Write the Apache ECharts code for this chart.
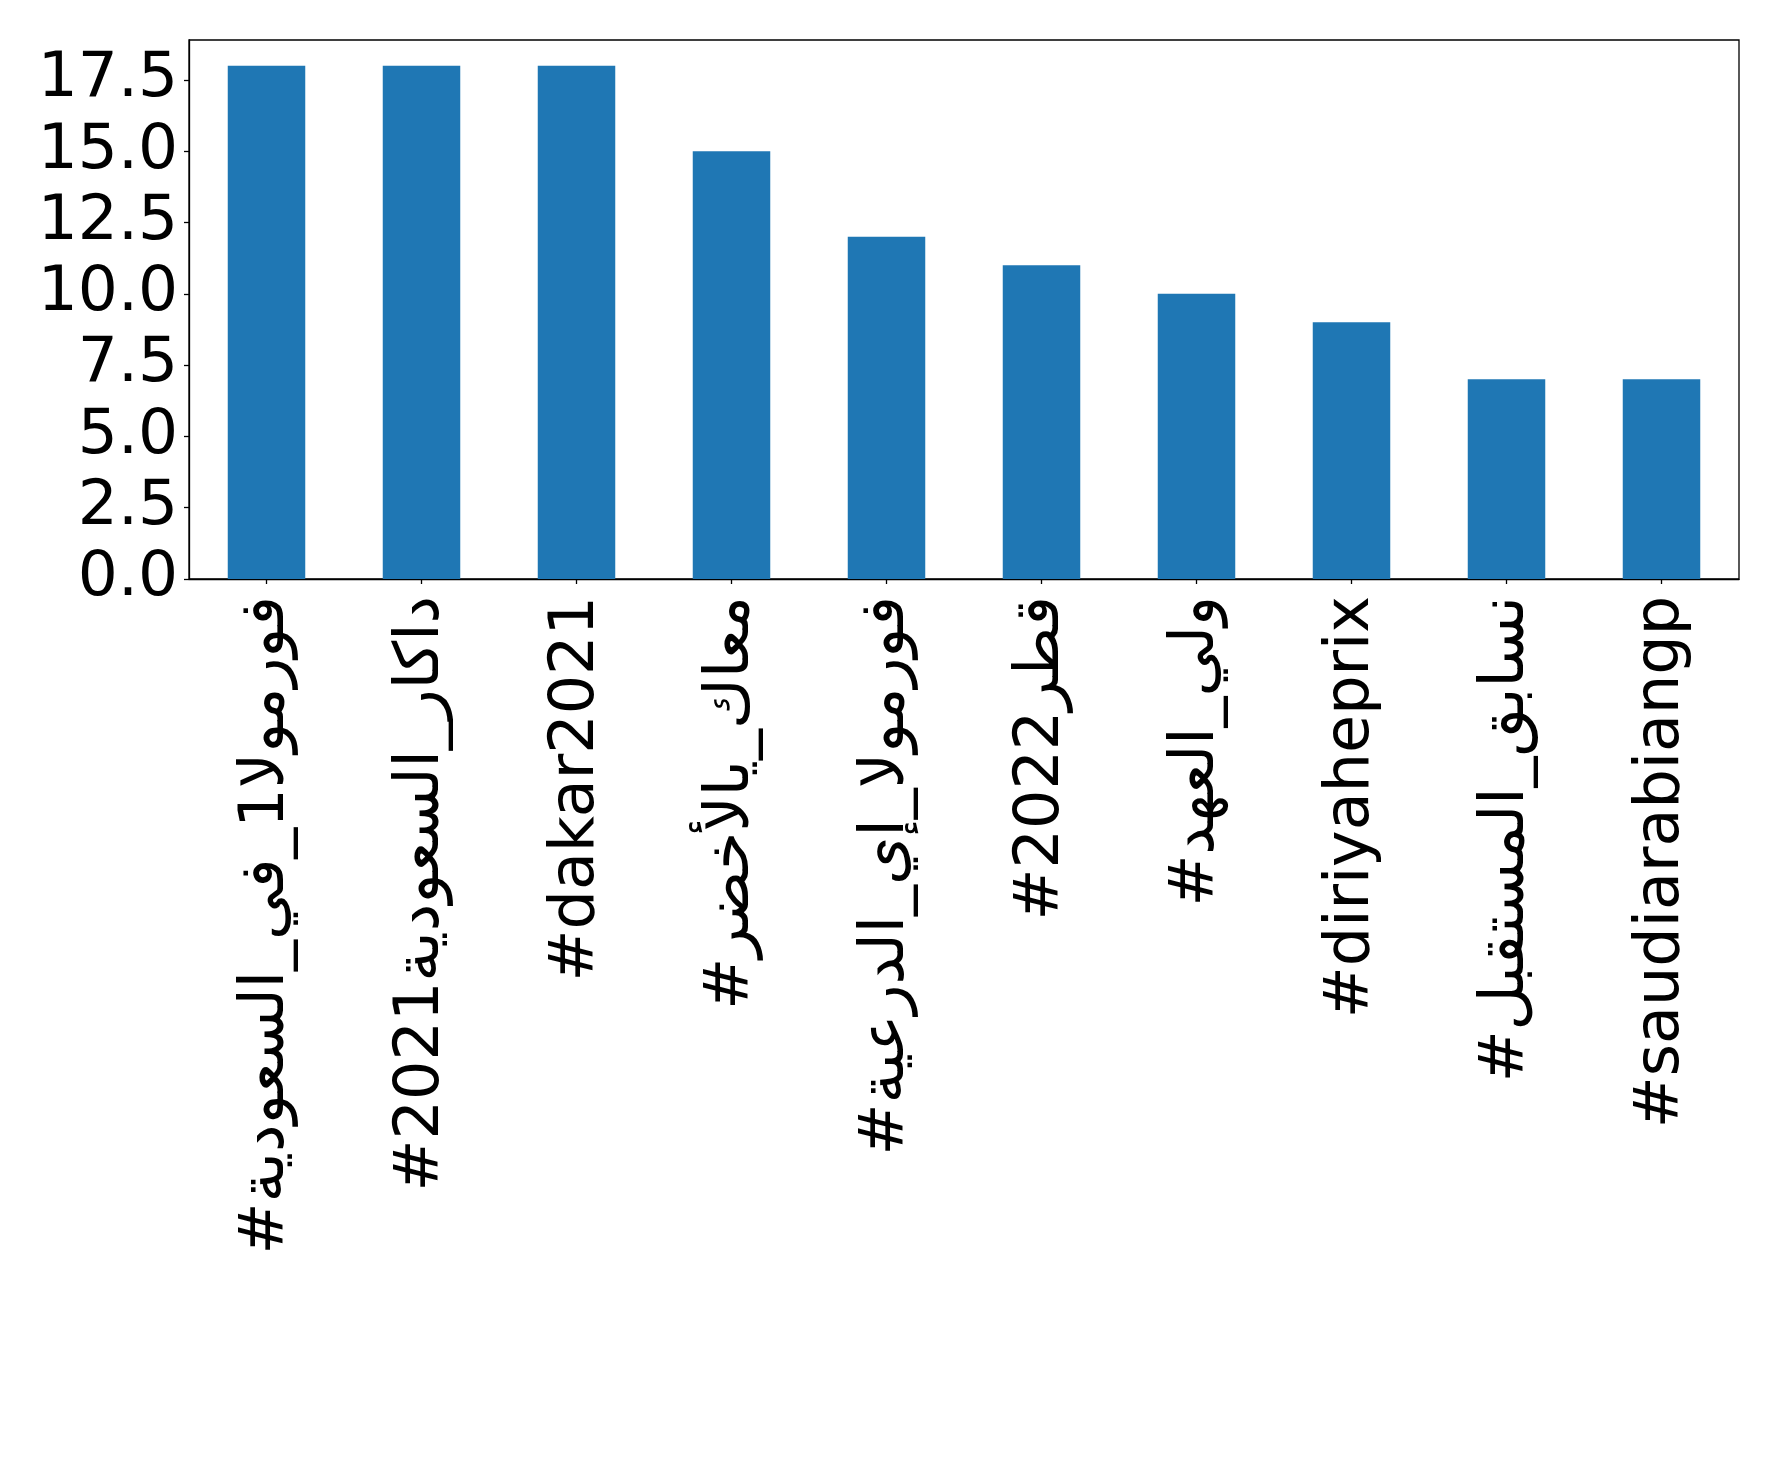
<!DOCTYPE html>
<html>
<head>
<meta charset="utf-8">
<script src="https://cdn.jsdelivr.net/npm/echarts@6/dist/echarts.min.js"></script>
<style>
html,body{margin:0;padding:0;background:#fff;}
#chart{width:1778px;height:1470px;}
</style>
</head>
<body>
<div id="chart"></div>
<script>
const categories = [
  "#فورمولا1_في_السعودية",
  "#داكار_السعودية2021",
  "#dakar2021",
  "#معاك_يالأخضر",
  "#فورمولا_إي_الدرعية",
  "#قطر2022",
  "#ولي_العهد",
  "#diriyaheprix",
  "#نسابق_المستقبل",
  "#saudiarabiangp"
];
const counts = [18, 18, 18, 15, 12, 11, 10, 9, 7, 7];
const yTicks = [0, 2.5, 5, 7.5, 10, 12.5, 15, 17.5];
const yMax = 18.9;

const chart = echarts.init(document.getElementById('chart'), null, {renderer: 'canvas'});
const font = '"DejaVu Sans", sans-serif';
chart.setOption({
  animation: false,
  backgroundColor: '#ffffff',
  grid: {
    left: 189, top: 40, right: 39, bottom: 891,
    show: true, borderColor: '#000', borderWidth: 1.3, backgroundColor: 'transparent'
  },
  xAxis: {
    type: 'category',
    data: categories,
    boundaryGap: true,
    axisLine: {show: true, lineStyle: {color: '#000', width: 1.3}},
    axisTick: {show: true, alignWithLabel: true, length: 5, lineStyle: {color: '#000', width: 1.3}},
    axisLabel: {
      rotate: 90, interval: 0, margin: 17,
      color: '#000', fontSize: 62, fontFamily: font
    }
  },
  yAxis: {
    type: 'value',
    min: 0, max: yMax,
    splitLine: {show: false},
    axisLine: {show: true, lineStyle: {color: '#000', width: 1.3}},
    axisTick: {show: true, length: 5, customValues: yTicks, lineStyle: {color: '#000', width: 1.3}},
    axisLabel: {
      customValues: yTicks,
      margin: 11, color: '#000', fontSize: 63, fontFamily: font,
      formatter: v => Number(v).toFixed(1)
    }
  },
  series: [{
    type: 'bar',
    data: counts,
    barWidth: '50%',
    itemStyle: {color: '#1f77b4'}
  }]
});
</script>
</body>
</html>
